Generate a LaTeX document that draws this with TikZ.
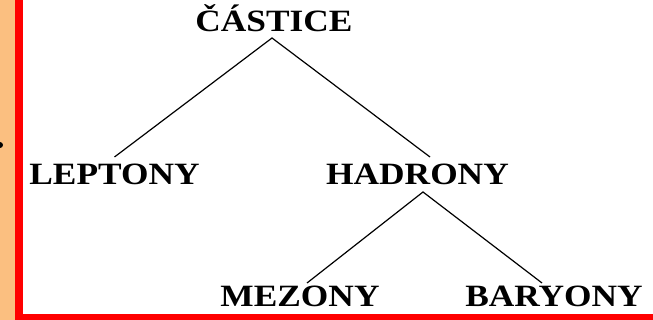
\documentclass[tikz,border=0pt]{standalone}
\usepackage{fontspec}
\setmainfont{Liberation Serif}
\usetikzlibrary{calc}
\definecolor{peach}{RGB}{251,191,128}
% wide bold caption text
\newcommand{\widelabel}[1]{\scalebox{1.14}[1]{#1}}
\tikzset{
  term/.style={font=\bfseries\fontsize{31}{34}\selectfont, inner sep=0pt, anchor=base},
  branch/.style={line width=1.2pt, black}
}
\begin{document}
\begin{tikzpicture}[x=1pt,y=1pt]
  \useasboundingbox (0,0) rectangle (653,320);
  % frame: peach strip on the left, red rules on the left and bottom
  \fill[peach] (0,0) rectangle (15,320);
  \fill[white] (23,6) rectangle (653,320);
  \fill[red] (15,0) rectangle (23,320);
  \fill[red] (15,0) rectangle (653,6);
  \fill[black] (0,175) circle (3);
  % tree labels
  \node[term] (castice) at (274,288) {\widelabel{ČÁSTICE}};
  \node[term] (lep) at (114.5,135) {\widelabel{LEPTONY}};
  \node[term] (had) at (417.5,135) {\widelabel{HADRONY}};
  \node[term] (mez) at (300,13) {\widelabel{MEZONY}};
  \node[term] (bar) at (554,13) {\widelabel{BARYONY}};
  % branches
  \coordinate (top) at ($(castice.base)+(-2,-6)$);
  \coordinate (mid) at ($(had.base)+(5.5,-7)$);
  \draw[branch] ($(lep.base)+(0,28)$) -- (top) -- ($(had.base)+(12.5,28)$);
  \draw[branch] ($(mez.base)+(7,24)$) -- (mid) -- ($(bar.base)+(-12,24)$);
\end{tikzpicture}
\end{document}
